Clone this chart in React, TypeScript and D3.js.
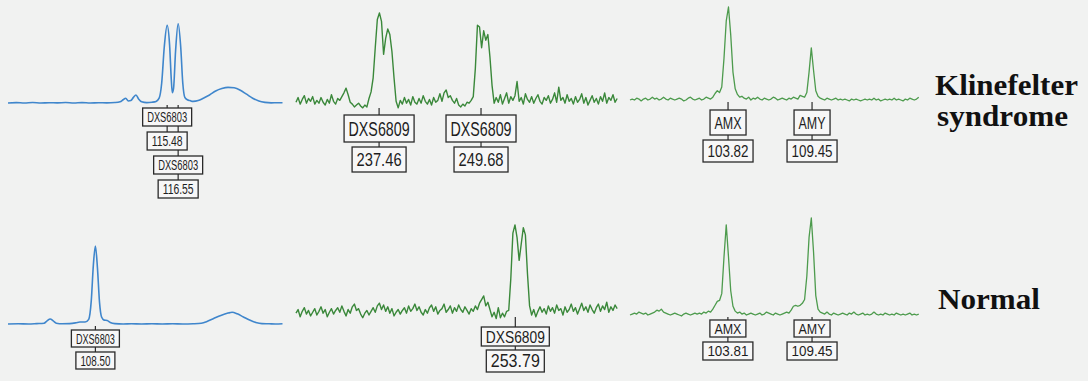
import * as d3 from "d3";

const W = 1088;
const H = 381;

// DXS6803 traces (blue), [size in bp, relative intensity 0-100]
const dxs6803Klinefelter: [number, number][] = [
  [100.0, 0], [100.8, 0.5], [101.6, 0], [102.4, 0.6], [103.2, 0], [104.0, 0.4], [104.8, 0.2],
  [105.6, 0.6], [106.4, 0], [107.2, 0.5], [108.0, 0], [108.8, 0.4], [109.6, 0.2], [110.4, 0.6],
  [110.9, 1.5], [111.2, 4], [111.45, 6], [111.7, 2.5], [111.95, 3], [112.2, 7], [112.45, 10],
  [112.7, 5], [113.0, 1.5], [113.5, 0.5], [114.0, 1], [114.4, 2], [114.7, 6], [114.95, 25],
  [115.2, 70], [115.48, 97], [115.72, 72], [115.88, 30], [115.98, 13], [116.1, 18], [116.3, 65],
  [116.55, 99], [116.8, 70], [117.0, 25], [117.2, 7], [117.45, 4], [117.7, 3], [118.0, 2],
  [118.5, 3], [119.0, 6], [119.6, 10], [120.2, 15], [120.8, 18], [121.4, 19.5], [122.0, 19],
  [122.6, 16], [123.2, 11], [123.8, 6], [124.4, 2.5], [125.0, 0.8], [125.6, 0.2], [126.2, 0.4],
  [126.7, 0.3],
];
const dxs6803Normal: [number, number][] = [
  [100.0, 0], [101.0, 0.4], [102.0, 0], [102.8, 0.5], [103.5, 1], [103.8, 4], [104.1, 6.5],
  [104.4, 4], [104.7, 1], [105.3, 0.3], [106.0, 0.5], [106.6, 1.5], [107.0, 2.5], [107.5, 2.5],
  [107.85, 6], [108.1, 30], [108.3, 75], [108.5, 100], [108.7, 72], [108.9, 28], [109.1, 9],
  [109.35, 5], [109.65, 4.5], [109.95, 2], [110.4, 0.5], [111.2, 0], [112.0, 0.4], [113.0, 0],
  [114.0, 0.3], [115.0, 0], [116.0, 0.4], [117.0, 0], [118.0, 0.3], [118.8, 1], [119.4, 3.5],
  [120.0, 7], [120.7, 11], [121.4, 14], [121.8, 15], [122.3, 13], [122.9, 9], [123.5, 5],
  [124.1, 2], [124.7, 0.5], [125.4, 0.3], [126.0, 0], [126.7, 0.3],
];

// DXS6809 traces (green), one reading every 0.25 bp from 227.5 bp
const dxs6809Start = 227.5;
const dxs6809Step = 0.25;
const dxs6809Klinefelter = [
  4, 9, 2, 7, 11, 3, 8, 5, 10, 2,
  6, 3, 9, 4, 1, 7, 3, 12, 5, 2,
  8, 6, 10, 14, 19, 12, 4, 2, -1, 1,
  3, 0, -2, 1, -1,
  8, 15, 30, 62, 92, 99, 90, 55, 72, 82, 76, 58, 30, 5, -2,
  6, 2, 9, 3, 7, 1, 10, 4, 2, 8,
  3, 11, 5, 2, 7, 1, 9, 4, 6, 13,
  5, 14, 17, 9, 11, 6, 3, 8, 1, -1,
  2, 0, 4, 3, 6, 10,
  40, 86, 84, 62, 80, 70, 76, 52, 22, 3,
  9, 4, 12, 2, 8, 14, 3, 10, 6, 11,
  26, 5, 9, 2, 13, 7, 4, 10, 3, 8,
  12, 5, 2, 9, 6, 11, 3, 7, 14, 4,
  20, 6, 9, 3, 12, 5, 8, 2, 10, 4,
  7, 13, 3, 9, 1, 6, 11, 4, 8, 2,
  10, 5, 14, 3, 9, 6, 12, 4, 8,
];
const dxs6809Normal = [
  2, 6, -2, 4, 8, 1, 5, -1, 3, 7,
  0, 4, 9, 2, 6, -2, 3, 7, 1, 5,
  8, 3, 10, 4, -1, 6, 2, 9, 12, 5,
  7, 1, -3, 2, 5, 0, 4, 8, 3, 10,
  13, 6, 11, 4, 9, 2, 7, -1, 3, 6,
  1, 5, 8, 2, 10, 4, 7, 12, 5, 9,
  3, 0, 6, 2, 8, 11, 4, 9, 1, 5,
  7, 12, 3, 6, 10, 2, 8, 4, 11, 6,
  3, 9, 5, 1, 7, 4, 10, 6, 13, 17,
  21, 10, 14, 6, -2, 3, -4, 8, -3, 2,
  -2, 4,
  5, 40, 90, 99, 85, 60, 78, 96, 88, 45, 10, 0,
  6, -2, 4, 9, 3, 7, 1, 10, 4, 8,
  2, 11, 5, 7, 0, 9, 3, 6, 12, 4,
  8, 1, 7, 13, 5, 9, 3, 11, 6, 2,
  8, 12, 4, 10, 6, 14, 3, 9, 5, 11, 7,
];

// Amelogenin traces (green), one reading every 0.15 bp from 97.25 bp
const amelStart = 97.25;
const amelStep = 0.15;
const amelKlinefelter = [
  0, 1, 0, 2, 1, -1, 1, 2, 0, 1,
  3, 1, 2, 0, 1, 3, 1, 0, 2, 1,
  0, 1, 2, 1, -1, 0, 2, 3, 1, 0,
  1, 2, 0, 1, 3, 2,
  1, 3, 7, 10, 8, 14, 45, 85, 100, 70, 30, 12, 6, 3,
  4, 2, 1, 3, 0, 2, 1, 3, 1, 0,
  2, 1, 0, 1, 3, 2, 0, 1, 2, 1,
  0, 2, 1, 3, 2, 1, 5, 4, 3, 8,
  30, 56, 32, 10, 4, 2,
  1, 0, 2, 1, 0, 1, 2, 0, 1, 0,
  1, 0, -1, 1, 0, 1, 0, -1, 0, 1,
  0, 1, 0, 2, 0, 1, -1, 0, 1, 0,
  1, 0, 2, 0, 1, 0, -1, 1, 0, 2, 1, 0, 1, 3,
];
const amelNormal = [
  0, 1, 2, 1, 3, 2, 1, 2, 0, 1,
  2, 3, 5, 4, 6, 3, 2, 1, 0, 1,
  2, 1, 0, -1, 1, 2, 1, 0, 1, 2,
  1, 2, 1, 3, 2, 4,
  3, 6, 10, 14, 15, 22, 60, 93, 60, 25, 9, 4, 2, 3,
  1, 2, 0, 1, 2, 1, 0, 1, 2, 0,
  1, 3, 2, 1, 0, 2, 1, 0, 1, 2,
  3, 2, 5, 9, 10, 9, 10, 12, 16, 40,
  80, 100, 65, 20, 6, 3,
  2, 1, 3, 1, 0, 2, 1, 0, 1, 2,
  1, 0, 2, 1, 3, 1, 0, 1, 2, 0,
  1, 0, 1, 3, 1, 0, 1, 0, 2, 1,
  0, 1, 0, 2, 1, 0, 1, 0, 1, 2, 0, 1, 0, 1,
];

// allele calls
const callsKlinefelterDxs6803 = [
  { name: "DXS6803", size: 115.48 },
  { name: "DXS6803", size: 116.55 },
];
const callsKlinefelterDxs6809 = [
  { name: "DXS6809", size: 237.46 },
  { name: "DXS6809", size: 249.68 },
];
const callsKlinefelterAmel = [
  { name: "AMX", size: 103.82 },
  { name: "AMY", size: 109.45 },
];
const callsNormalDxs6803 = [{ name: "DXS6803", size: 108.5 }];
const callsNormalDxs6809 = [{ name: "DXS6809", size: 253.79 }];
const callsNormalAmel = [
  { name: "AMX", size: 103.81 },
  { name: "AMY", size: 109.45 },
];

const rowTitles = [["Klinefelter", "syndrome"], ["Normal"]];

const sampled = (start: number, step: number, vals: number[]): [number, number][] =>
  vals.map((v, i) => [start + i * step, v]);

// x scales, one per marker panel
const xDxs6803 = d3.scaleLinear().domain([100, 126.7]).range([8, 282.5]);
const xDxs6809 = d3.scaleLinear().domain([227.5, 266.1]).range([296, 618]);
const xAmel = d3.scaleLinear().domain([97.25, 116.55]).range([630, 918]);

type Box = { top: number; nameW: number; nameH: number; sizeW: number; sizeH: number; gap: number; nf: number; sf: number };

const panels = [
  { data: dxs6803Klinefelter, x: xDxs6803, base: 103, peak: 23, color: "#3f86cc", width: 1.6, curve: d3.curveMonotoneX,
    calls: callsKlinefelterDxs6803, box: { top: 108, nameW: 49, nameH: 18, sizeW: 40, sizeH: 18, gap: 6, nf: 14, sf: 14 } },
  { data: sampled(dxs6809Start, dxs6809Step, dxs6809Klinefelter), x: xDxs6809, base: 106, peak: 12, color: "#3a883a", width: 1.4, curve: d3.curveLinear,
    calls: callsKlinefelterDxs6809, box: { top: 115, nameW: 70, nameH: 27, sizeW: 54, sizeH: 25, gap: 5, nf: 20, sf: 19 } },
  { data: sampled(amelStart, amelStep, amelKlinefelter), x: xAmel, base: 100, peak: 7, color: "#4d9b4d", width: 1.3, curve: d3.curveLinear,
    calls: callsKlinefelterAmel, box: { top: 110, nameW: 36, nameH: 25, sizeW: 50, sizeH: 22, gap: 5, nf: 17, sf: 17 } },
  { data: dxs6803Normal, x: xDxs6803, base: 324, peak: 246, color: "#3f86cc", width: 1.6, curve: d3.curveMonotoneX,
    calls: callsNormalDxs6803, box: { top: 330, nameW: 48, nameH: 17, sizeW: 39, sizeH: 17, gap: 5, nf: 14, sf: 14 } },
  { data: sampled(dxs6809Start, dxs6809Step, dxs6809Normal), x: xDxs6809, base: 315, peak: 224, color: "#3a883a", width: 1.4, curve: d3.curveLinear,
    calls: callsNormalDxs6809, box: { top: 327, nameW: 68, nameH: 19, sizeW: 58, sizeH: 22, gap: 4, nf: 17, sf: 18 } },
  { data: sampled(amelStart, amelStep, amelNormal), x: xAmel, base: 315, peak: 218, color: "#4d9b4d", width: 1.3, curve: d3.curveLinear,
    calls: callsNormalAmel, box: { top: 320, nameW: 36, nameH: 17, sizeW: 50, sizeH: 18, gap: 5, nf: 15, sf: 15 } },
];

const FONT = "'Liberation Sans Narrow', 'Liberation Sans', Arial, sans-serif";

function Label({ cx, y, w, h, text, fs }: { cx: number; y: number; w: number; h: number; text: string; fs: number }) {
  return (
    <g>
      <rect x={cx - w / 2} y={y} width={w} height={h} fill="#f7f7f7" stroke="#2a2a2a" strokeWidth={1.3} />
      <text x={cx} y={y + h / 2 + fs * 0.36} textAnchor="middle" fontFamily={FONT} fontSize={fs} fill="#1e1e1e"
        textLength={w - 9} lengthAdjust="spacingAndGlyphs">
        {text}
      </text>
    </g>
  );
}

export default function App() {
  if (typeof document !== "undefined") document.body.style.margin = "0";
  return (
    <svg width={W} height={H} viewBox={`0 0 ${W} ${H}`} style={{ display: "block", background: "#f1f2f1" }}>
      {panels.map((p, pi) => {
        const y = d3.scaleLinear().domain([0, 100]).range([p.base, p.peak]);
        const line = d3.line<[number, number]>().x((d) => p.x(d[0])).y((d) => y(d[1])).curve(p.curve);
        const b: Box = p.box;
        const step = b.nameH + b.gap + b.sizeH + b.gap;
        let level = 0;
        const placed = p.calls.map((c, i) => {
          if (i > 0 && Math.abs(p.x(c.size) - p.x(p.calls[i - 1].size)) < b.nameW) level += 1;
          else level = 0;
          return { ...c, cx: p.x(c.size), top: b.top + level * step };
        });
        return (
          <g key={pi}>
            <path d={line(p.data) ?? ""} fill="none" stroke={p.color} strokeWidth={p.width} strokeLinejoin="round" />
            {placed.map((c, i) => (
              <line key={i} x1={c.cx} x2={c.cx} y1={p.base + 2} y2={c.top + b.nameH + b.gap} stroke="#2a2a2a" strokeWidth={1.2} />
            ))}
            {placed.map((c, i) => (
              <g key={i}>
                <Label cx={c.cx} y={c.top} w={b.nameW} h={b.nameH} text={c.name} fs={b.nf} />
                <Label cx={c.cx} y={c.top + b.nameH + b.gap} w={b.sizeW} h={b.sizeH} text={c.size.toFixed(2)} fs={b.sf} />
              </g>
            ))}
          </g>
        );
      })}
      <g fontFamily="'Liberation Serif', 'Times New Roman', serif" fontWeight="bold" fontSize={29} fill="#111" lengthAdjust="spacingAndGlyphs">
        <text x={935} y={95} textLength={143} lengthAdjust="spacingAndGlyphs">{rowTitles[0][0]}</text>
        <text x={937} y={126} textLength={131} lengthAdjust="spacingAndGlyphs">{rowTitles[0][1]}</text>
        <text x={938} y={309} textLength={102} lengthAdjust="spacingAndGlyphs">{rowTitles[1][0]}</text>
      </g>
    </svg>
  );
}
